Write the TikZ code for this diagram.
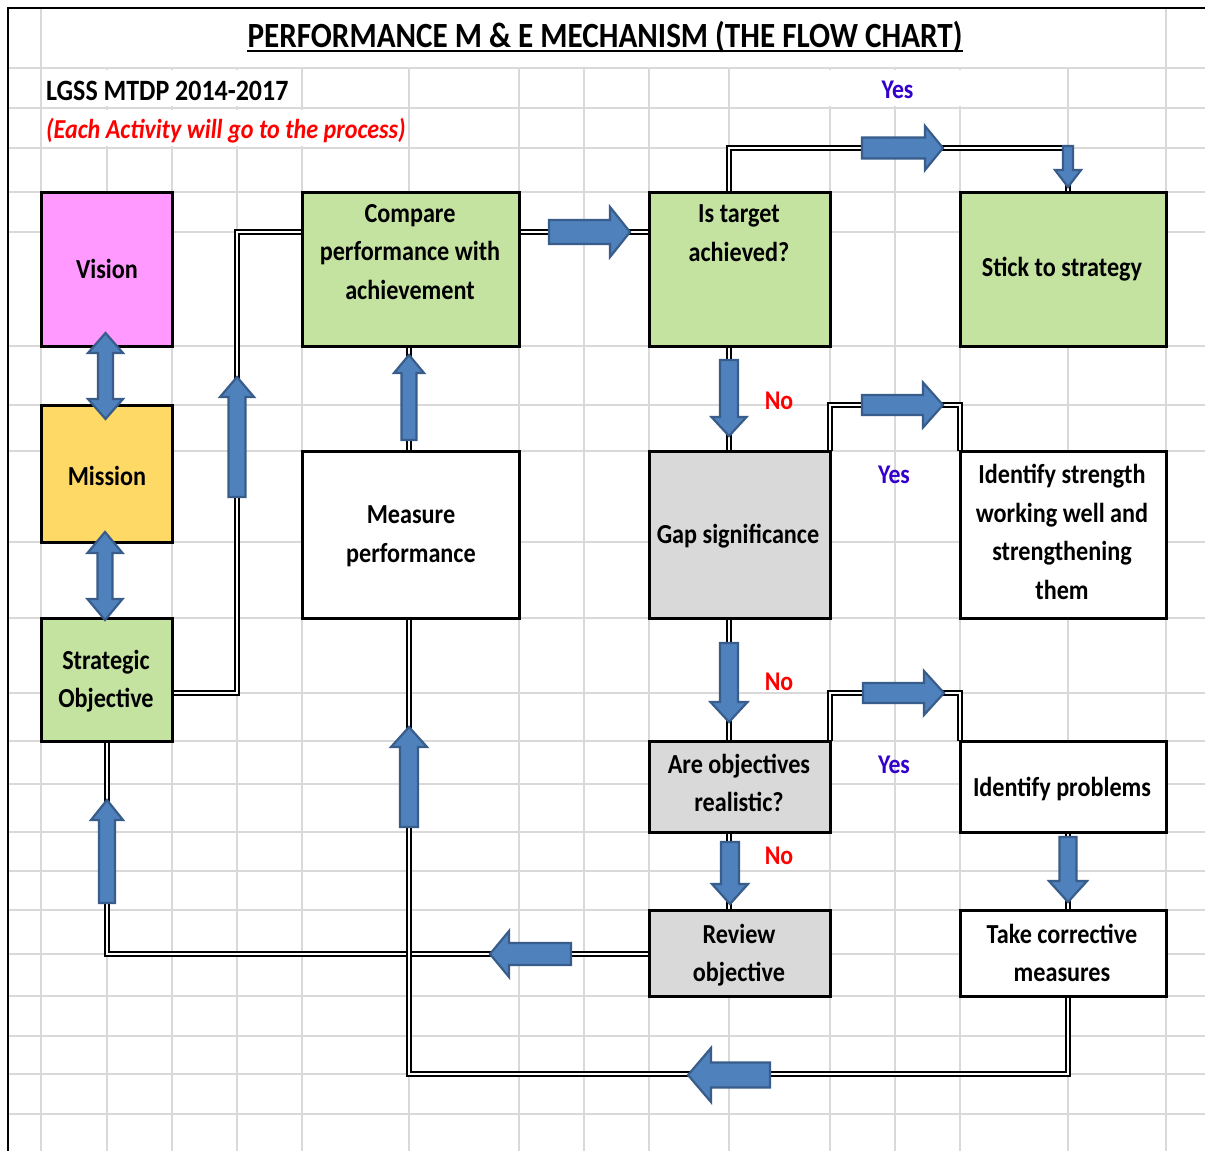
\documentclass[tikz,border=0pt]{standalone}
\usepackage{fontspec}
\setmainfont{Carlito}[FakeStretch=0.88]
\usetikzlibrary{calc}
\definecolor{gridc}{RGB}{217,217,217}
\definecolor{pinkc}{RGB}{255,153,255}
\definecolor{yellc}{RGB}{255,217,102}
\definecolor{greenc}{RGB}{196,226,160}
\definecolor{grayc}{RGB}{217,217,217}
\definecolor{arrowfill}{RGB}{79,129,189}
\definecolor{arrowline}{RGB}{56,93,138}
\definecolor{yesblue}{RGB}{51,0,204}
\definecolor{nored}{RGB}{255,0,0}
% tail, angle, length, shaft half width, head half width, head length
\newcommand\blkarrow[6]{%
  \draw[blockarrow, shift={#1}, rotate=#2] (0,-#4) -- ({#3-#6},-#4) -- ({#3-#6},-#5) -- (#3,0) -- ({#3-#6},#5) -- ({#3-#6},#4) -- (0,#4) -- cycle;}
% x, top tip y, bottom tip y, shaft hw, head hw, head length
\newcommand\dblarrow[6]{%
  \draw[blockarrow] ({#1-#4},{#2+#6}) -- ({#1-#5},{#2+#6}) -- (#1,#2) -- ({#1+#5},{#2+#6}) -- ({#1+#4},{#2+#6}) -- ({#1+#4},{#3-#6}) -- ({#1+#5},{#3-#6}) -- (#1,#3) -- ({#1-#5},{#3-#6}) -- ({#1-#4},{#3-#6}) -- cycle;}
\begin{document}
\begin{tikzpicture}[x=1pt,y=-1pt,
  gridl/.style={draw=gridc, line width=2pt},
  box/.style={draw=black, line width=3pt, anchor=north west, inner sep=0pt, outer sep=0pt},
  txt/.style={font=\fontsize{27.5}{38.5}\selectfont\bfseries, align=center, inner sep=0pt},
  lbl/.style={font=\fontsize{27}{30}\selectfont\bfseries, inner sep=0pt},
  conn/.style={draw=black, line width=1.9pt, double=white, double distance=1.3pt, line join=miter},
  blockarrow/.style={fill=arrowfill, draw=arrowline, line width=2.2pt, line join=miter}]
\useasboundingbox (0,0) rectangle (1205,1151);
\fill[white] (0,0) rectangle (1205,1151);
% grid
\foreach \x in {107,172,237,302,409,519,584,649,729,830,895,960,1068}
  \draw[gridl] (\x,68) -- (\x,1151);
\foreach \x in {41,1166}
  \draw[gridl] (\x,8) -- (\x,1151);
\foreach \y in {68,108,148,192,232,346,405,451,542,618,693,741,784,832,871,910,954,996,1036,1074,1114}
  \draw[gridl] (8,\y) -- (1205,\y);
\fill[white] (43,70) rectangle (300,106);
\fill[white] (43,110) rectangle (407,146);
\fill[white] (731,70) rectangle (1066,106);
% frame
\draw[line width=2pt] (8,1151) -- (8,8) -- (1205,8);
% title
\node[inner sep=0pt, anchor=base, font=\fontsize{35.4}{40}\selectfont\bfseries] (title) at (605,47) {PERFORMANCE M \& E MECHANISM (THE FLOW CHART)};
\draw[line width=2.2pt] ([yshift=-3.6pt]title.base west) -- ([yshift=-3.6pt]title.base east);
\node[anchor=base west, inner sep=0pt, font=\fontsize{29.5}{32}\selectfont\bfseries] (lgss) at (46,100) {LGSS MTDP 2014-2017};
\node[anchor=base west, inner sep=0pt, text=nored, font=\fontsize{27.4}{32}\selectfont\bfseries\itshape] (note) at (46,138.5) {(Each Activity will go to the process)};
% boxes
\node[box, fill=pinkc, minimum width=131pt, minimum height=154pt] (vis) at (41,192) {};
\node[box, fill=yellc, minimum width=131pt, minimum height=137pt] (mis) at (41,405) {};
\node[box, fill=greenc, minimum width=131pt, minimum height=123pt] (so) at (41,618) {};
\node[box, fill=greenc, minimum width=217pt, minimum height=154pt] (cmp) at (302,192) {};
\node[box, fill=greenc, minimum width=181pt, minimum height=154pt] (ist) at (649,192) {};
\node[box, fill=greenc, minimum width=206pt, minimum height=154pt] (sts) at (960,192) {};
\node[box, fill=white, minimum width=217pt, minimum height=167pt] (mp) at (302,451) {};
\node[box, fill=grayc, minimum width=181pt, minimum height=167pt] (gap) at (649,451) {};
\node[box, fill=white, minimum width=206pt, minimum height=167pt] (ids) at (960,451) {};
\node[box, fill=grayc, minimum width=181pt, minimum height=91pt] (aor) at (649,741) {};
\node[box, fill=white, minimum width=206pt, minimum height=91pt] (idp) at (960,741) {};
\node[box, fill=grayc, minimum width=181pt, minimum height=86pt] (rev) at (649,910) {};
\node[box, fill=white, minimum width=206pt, minimum height=86pt] (tcm) at (960,910) {};
% connectors
\coordinate (j1) at (237,693);
\coordinate (j2) at (237,232);
\coordinate (j3) at (729,148);
\coordinate (j4) at (1068,148);
\coordinate (j5) at (830,405);
\coordinate (j6) at (960,405);
\coordinate (j7) at (830,693);
\coordinate (j8) at (960,693);
\coordinate (j9) at (107,954);
\coordinate (j10) at (1068,1074);
\coordinate (j11) at (409,1074);
\draw[conn] (so.east |- j1) -- (j1) -- (j2) -- (cmp.west |- j2);
\draw[conn] (cmp.east |- j2) -- (ist.west |- j2);
\draw[conn] (ist.north -| j3) -- (j3) -- (j4) -- (sts.north -| j4);
\draw[conn] (ist.south -| j3) -- (gap.north -| j3);
\draw[conn] (gap.north east) -- (j5) -- (j6) -- (ids.north west);
\draw[conn] (gap.south -| j3) -- (aor.north -| j3);
\draw[conn] (aor.north east) -- (j7) -- (j8) -- (idp.north west);
\draw[conn] (aor.south -| j3) -- (rev.north -| j3);
\draw[conn] (idp.south -| j4) -- (tcm.north -| j4);
\draw[conn] (rev.west |- j9) -- (j9) -- (so.south -| j9);
\draw[conn] (tcm.south -| j10) -- (j10) -- (j11) -- (mp.south -| j11);
\draw[conn] (mp.north -| j11) -- (cmp.south -| j11);
% redraw box borders over connector ends
\foreach \n in {vis,mis,so,cmp,ist,sts,mp,gap,ids,aor,idp,rev,tcm}
  \draw[line width=3pt] (\n.north west) rectangle (\n.south east);
% block arrows
\blkarrow{(237,497)}{90}{120}{8.5}{17}{20}
\blkarrow{(549,232)}{0}{81}{12}{25}{20}
\blkarrow{(862,148)}{0}{81}{10.5}{22}{18}
\blkarrow{(1068,146)}{-90}{41}{5}{13}{17}
\blkarrow{(729,360)}{-90}{76}{9}{17.5}{19}
\blkarrow{(862,405)}{0}{81}{10}{22.5}{20}
\blkarrow{(729,643)}{-90}{79}{9}{18.5}{20}
\blkarrow{(863,693)}{0}{81}{10}{22}{20}
\blkarrow{(730,842)}{-90}{62}{9}{18}{20}
\blkarrow{(1068,837)}{-90}{65}{8.5}{19}{21}
\blkarrow{(571,954)}{180}{81}{11}{23}{19}
\blkarrow{(107,903)}{90}{103}{8}{16}{20}
\blkarrow{(770,1075)}{180}{82}{12.5}{27}{23}
\blkarrow{(409,827)}{90}{100}{9}{18}{20}
\blkarrow{(409,440)}{90}{85}{7.5}{15}{18}
\dblarrow{105.5}{333}{419}{7.5}{17.5}{20}
\dblarrow{105}{532}{620}{7.5}{17.5}{21}
% box texts
\node[txt] (t-vis) at (107,269) {Vision};
\node[txt] (t-mis) at (107,476) {Mission};
\node[txt] (t-so) at (106,681) {Strategic\\Objective};
\node[txt] (t-cmp) at (410,252) {Compare\\performance with\\achievement};
\node[txt] (t-ist) at (739,233) {Is target\\achieved?};
\node[txt] (t-sts) at (1062,269) {Stick to strategy};
\node[txt] (t-mp) at (411,536) {Measure\\performance};
\node[txt] (t-gap) at (738,536) {Gap significance};
\node[txt] (t-ids) at (1062,532) {Identify strength\\working well and\\strengthening\\them};
\node[txt] (t-aor) at (739,783) {Are objectives\\realistic?};
\node[txt] (t-idp) at (1062,789) {Identify problems};
\node[txt] (t-rev) at (739,955) {Review\\objective};
\node[txt] (t-tcm) at (1062,953) {Take corrective\\measures};
% labels
\node[lbl, text=yesblue, anchor=base] (yes1) at (897.5,98.5) {Yes};
\node[lbl, text=nored] (no1) at (779,401) {No};
\node[lbl, text=yesblue] (yes2) at (894,475) {Yes};
\node[lbl, text=nored] (no2) at (779,682) {No};
\node[lbl, text=yesblue] (yes3) at (894,765) {Yes};
\node[lbl, text=nored] (no3) at (779,856) {No};
\end{tikzpicture}
\end{document}
